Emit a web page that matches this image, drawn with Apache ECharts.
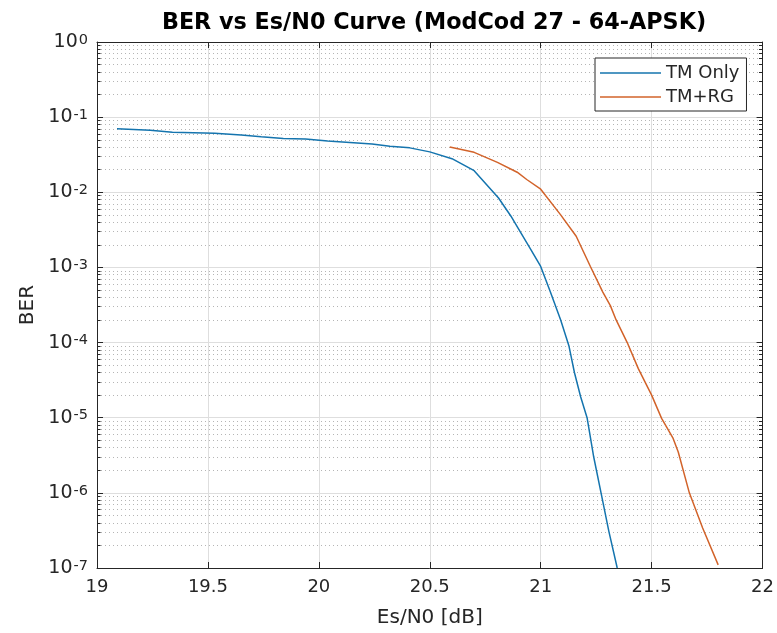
<!DOCTYPE html>
<html><head><meta charset="utf-8">
<script src="https://cdn.jsdelivr.net/npm/echarts@6/dist/echarts.min.js"></script>
<style>html,body{margin:0;padding:0;background:#fff}#c{width:777px;height:633px}</style>
</head><body><div id="c"></div>
<script>
// ---- data ----
const tmOnlyEsN0 = [19.09, 19.24, 19.34, 19.53, 19.65, 19.74, 19.84, 19.94, 20.04, 20.14, 20.24, 20.32, 20.41, 20.50, 20.60, 20.70, 20.81, 20.866, 20.91, 20.955, 21.0, 21.045, 21.09, 21.127, 21.152, 21.18, 21.209, 21.239, 21.272, 21.307, 21.345];
const tmOnlyBer  = [0.070, 0.067, 0.063, 0.061, 0.058, 0.055, 0.052, 0.051, 0.048, 0.046, 0.044, 0.041, 0.039, 0.0345, 0.028, 0.0194, 0.0084, 0.0048, 0.0029, 0.00174, 0.00103, 4.6e-4, 2.0e-4, 9.1e-5, 4.0e-5, 1.9e-5, 1.0e-5, 3.0e-6, 1.0e-6, 3.1e-7, 1.0e-7];
const tmRgEsN0 = [20.59, 20.70, 20.805, 20.894, 20.937, 21.0, 21.09, 21.16, 21.224, 21.28, 21.314, 21.34, 21.39, 21.44, 21.50, 21.545, 21.597, 21.62, 21.67, 21.73, 21.80];
const tmRgBer  = [0.040, 0.034, 0.025, 0.0185, 0.0148, 0.011, 0.005, 0.0026, 0.00103, 4.7e-4, 3.1e-4, 2.0e-4, 1.0e-4, 4.5e-5, 2.0e-5, 9.8e-6, 5.3e-6, 3.5e-6, 1.0e-6, 3.4e-7, 1.1e-7];
const seriesNames = ['TM Only', 'TM+RG'];
const decadeExponents = [-7, -6, -5, -4, -3, -2, -1];
const minorMultipliers = [2, 3, 4, 5, 6, 7, 8, 9];
const titleText = 'BER vs Es/N0 Curve (ModCod 27 - 64-APSK)';
const xName = 'Es/N0 [dB]';
const yName = 'BER';

// ---- build ----
const X_MIN = 19, X_MAX = 22;
const minorVals = [];
decadeExponents.forEach(e => minorMultipliers.forEach(m => minorVals.push(m * Math.pow(10, e))));
const tickLen = 0.016;
const minorGridData = minorVals.map(v => ({coords: [[X_MIN, v], [X_MAX, v]]}));
const minorTickData = [];
minorVals.forEach(v => {
  minorTickData.push({coords: [[X_MIN, v], [X_MIN + tickLen, v]]});
  minorTickData.push({coords: [[X_MAX - tickLen, v], [X_MAX, v]]});
});
const frameColor = '#262626';
const font = 'DejaVu Sans';
const blue = '#1474ae';
const orange = '#d2632a';

const chart = echarts.init(document.getElementById('c'), null, {renderer: 'canvas'});
chart.setOption({
  animation: false,
  backgroundColor: '#fff',
  textStyle: {fontFamily: font},
  title: {
    text: titleText, left: 429, top: 7, textAlign: 'center',
    textStyle: {fontFamily: font, fontSize: 22.3, fontWeight: 'bold', color: '#000'}
  },
  grid: {left: 97, right: 11, top: 42, bottom: 61, containLabel: false},
  legend: {
    data: seriesNames, orient: 'vertical', left: 595, top: 58,
    padding: [6, 7, 5, 5], itemGap: 6, itemWidth: 61, itemHeight: 1.5, icon: 'rect',
    borderColor: frameColor, borderWidth: 1, backgroundColor: '#fff', borderRadius: 0,
    textStyle: {fontFamily: font, fontSize: 18, color: frameColor, lineHeight: 18}
  },
  xAxis: [{
    type: 'value', min: X_MIN, max: X_MAX, interval: 0.5,
    name: xName, nameLocation: 'middle', nameGap: 40,
    nameTextStyle: {fontFamily: font, fontSize: 20, color: frameColor},
    axisLine: {show: true, onZero: false, lineStyle: {color: frameColor, width: 1}},
    axisTick: {show: true, inside: true, length: 6, lineStyle: {color: frameColor}},
    axisLabel: {fontFamily: font, fontSize: 18, color: frameColor, margin: 10, formatter: v => String(v)},
    splitLine: {show: true, lineStyle: {color: '#dedede', width: 1}}
  }, {
    type: 'value', min: X_MIN, max: X_MAX, interval: 0.5, position: 'top',
    axisLine: {show: true, onZero: false, lineStyle: {color: frameColor, width: 1}},
    axisTick: {show: true, inside: true, length: 6, lineStyle: {color: frameColor}},
    axisLabel: {show: false}, splitLine: {show: false}
  }],
  yAxis: [{
    type: 'log', logBase: 10, min: 1e-7, max: 1, interval: 1,
    name: yName, nameLocation: 'middle', nameGap: 59,
    nameTextStyle: {fontFamily: font, fontSize: 20, color: frameColor},
    axisLine: {show: true, onZero: false, lineStyle: {color: frameColor, width: 1}},
    axisTick: {show: true, inside: true, length: 6, lineStyle: {color: frameColor}},
    axisLabel: {
      margin: 9, color: frameColor,
      formatter: v => '{b|10}{s|' + Math.round(Math.log10(v)) + '}',
      rich: {
        b: {fontFamily: font, fontSize: 19, color: frameColor, padding: [8, 0, 0, 0], verticalAlign: 'bottom', lineHeight: 19},
        s: {fontFamily: font, fontSize: 14.5, color: frameColor, verticalAlign: 'top', lineHeight: 14, padding: [0, 0, 0, 1]}
      }
    },
    splitLine: {show: true, lineStyle: {color: '#dedede', width: 1}}
  }, {
    type: 'log', logBase: 10, min: 1e-7, max: 1, interval: 1, position: 'right',
    axisLine: {show: true, onZero: false, lineStyle: {color: frameColor, width: 1}},
    axisTick: {show: true, inside: true, length: 6, lineStyle: {color: frameColor}},
    axisLabel: {show: false}, splitLine: {show: false}
  }],
  series: [{
    name: '__minorGrid', type: 'lines', coordinateSystem: 'cartesian2d', xAxisIndex: 0, yAxisIndex: 0,
    silent: true, z: 1, polyline: false,
    lineStyle: {type: [1, 3], color: '#b5b5b5', width: 1, opacity: 1},
    data: minorGridData
  }, {
    name: '__minorTicks', type: 'lines', coordinateSystem: 'cartesian2d', xAxisIndex: 0, yAxisIndex: 0,
    silent: true, z: 3, polyline: false,
    lineStyle: {type: 'solid', color: frameColor, width: 1, opacity: 1},
    data: minorTickData
  }, {
    name: seriesNames[0], type: 'line', showSymbol: false, symbol: 'none', z: 5,
    color: blue, lineStyle: {color: blue, width: 1.5},
    data: tmOnlyEsN0.map((x, i) => [x, tmOnlyBer[i]])
  }, {
    name: seriesNames[1], type: 'line', showSymbol: false, symbol: 'none', z: 5,
    color: orange, lineStyle: {color: orange, width: 1.5},
    data: tmRgEsN0.map((x, i) => [x, tmRgBer[i]])
  }]
});
</script>
</body></html>
